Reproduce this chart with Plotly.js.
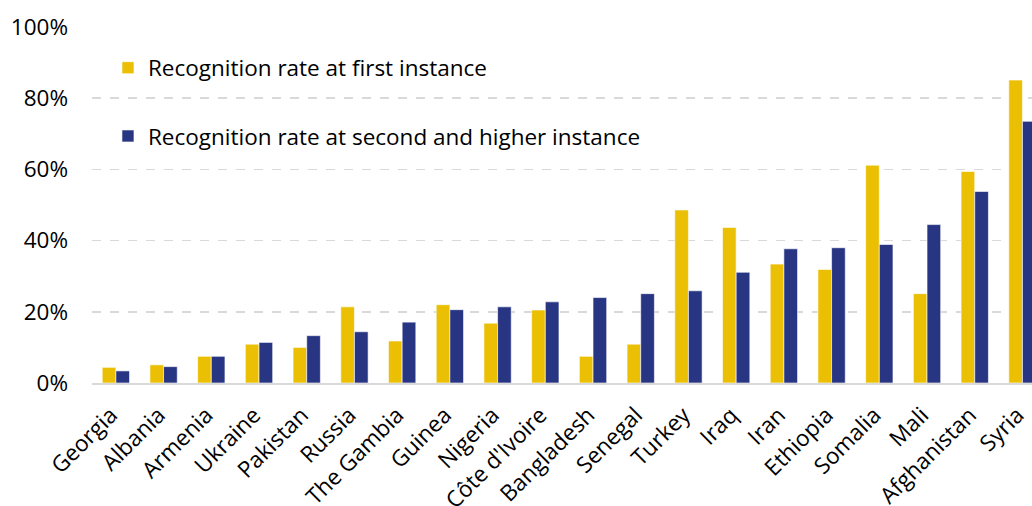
<!DOCTYPE html>
<html>
<head>
<meta charset="utf-8">
<script src="https://cdn.plot.ly/plotly-3.0.1.min.js"></script>
<style>html,body{margin:0;padding:0;overflow:hidden;background:#fff}</style>
</head>
<body>
<div id="chart" style="width:1032px;height:506px"></div>
<script>
const countries = ["Georgia","Albania","Armenia","Ukraine","Pakistan","Russia","The Gambia","Guinea","Nigeria","Côte d'Ivoire","Bangladesh","Senegal","Turkey","Iraq","Iran","Ethiopia","Somalia","Mali","Afghanistan","Syria"];
const firstInstance = [4.4,5.1,7.5,10.9,10.0,21.4,11.8,22.0,16.8,20.5,7.5,10.9,48.6,43.7,33.4,31.9,61.2,25.1,59.4,85.1];
const secondInstance = [3.4,4.6,7.5,11.4,13.3,14.4,17.1,20.6,21.4,22.8,24.0,25.1,25.9,31.1,37.7,38.0,38.9,44.5,53.8,73.5];
const seriesNames = ["Recognition rate at first instance","Recognition rate at second and higher instance"];
const yTicks = [0,20,40,60,80,100];

const fontFam = "'Open Sans', sans-serif";
const fs = 22.5;
const traces = [
  {type:"bar", x:countries, y:firstInstance, name:seriesNames[0], legendgroup:"a",
   marker:{color:"#EBC004", line:{color:"rgba(255,255,255,0.6)", width:1}}},
  {type:"bar", x:countries, y:secondInstance, name:seriesNames[1], legendgroup:"b",
   marker:{color:"#283583", line:{color:"rgba(255,255,255,0.6)", width:1}}}
];
const layout = {
  width:1032, height:506,
  margin:{l:92, r:0, t:27, b:123},
  paper_bgcolor:"#fff", plot_bgcolor:"#fff",
  barmode:"group", bargap:0.427, bargroupgap:0,
  font:{family:fontFam, color:"#000", size:fs},
  showlegend:true,
  legend:{x:0.017, y:0.945, xanchor:"left", yanchor:"top", bgcolor:"rgba(0,0,0,0)",
          font:{size:fs, family:fontFam}, tracegroupgap:36, traceorder:"grouped"},
  xaxis:{type:"category", range:[-0.5,19.2], tickangle:-45, automargin:false,
         showgrid:false, zeroline:false, showline:true, linecolor:"#d9d9d9", linewidth:2,
         ticks:"", ticklabelstandoff:8, ticklabelshift:-5,
         tickfont:{size:fs, family:fontFam}},
  yaxis:{range:[0,100], tickvals:yTicks, ticktext:yTicks.map(v=>v+"%"), automargin:false,
         showgrid:true, gridcolor:"#d9d9d9", griddash:"dash", gridwidth:1.5,
         zeroline:false, showline:false, ticks:"", ticklabelstandoff:23,
         tickfont:{size:fs, family:fontFam}}
};
Plotly.newPlot("chart", traces, layout, {displayModeBar:false, staticPlot:true});
</script>
</body>
</html>
